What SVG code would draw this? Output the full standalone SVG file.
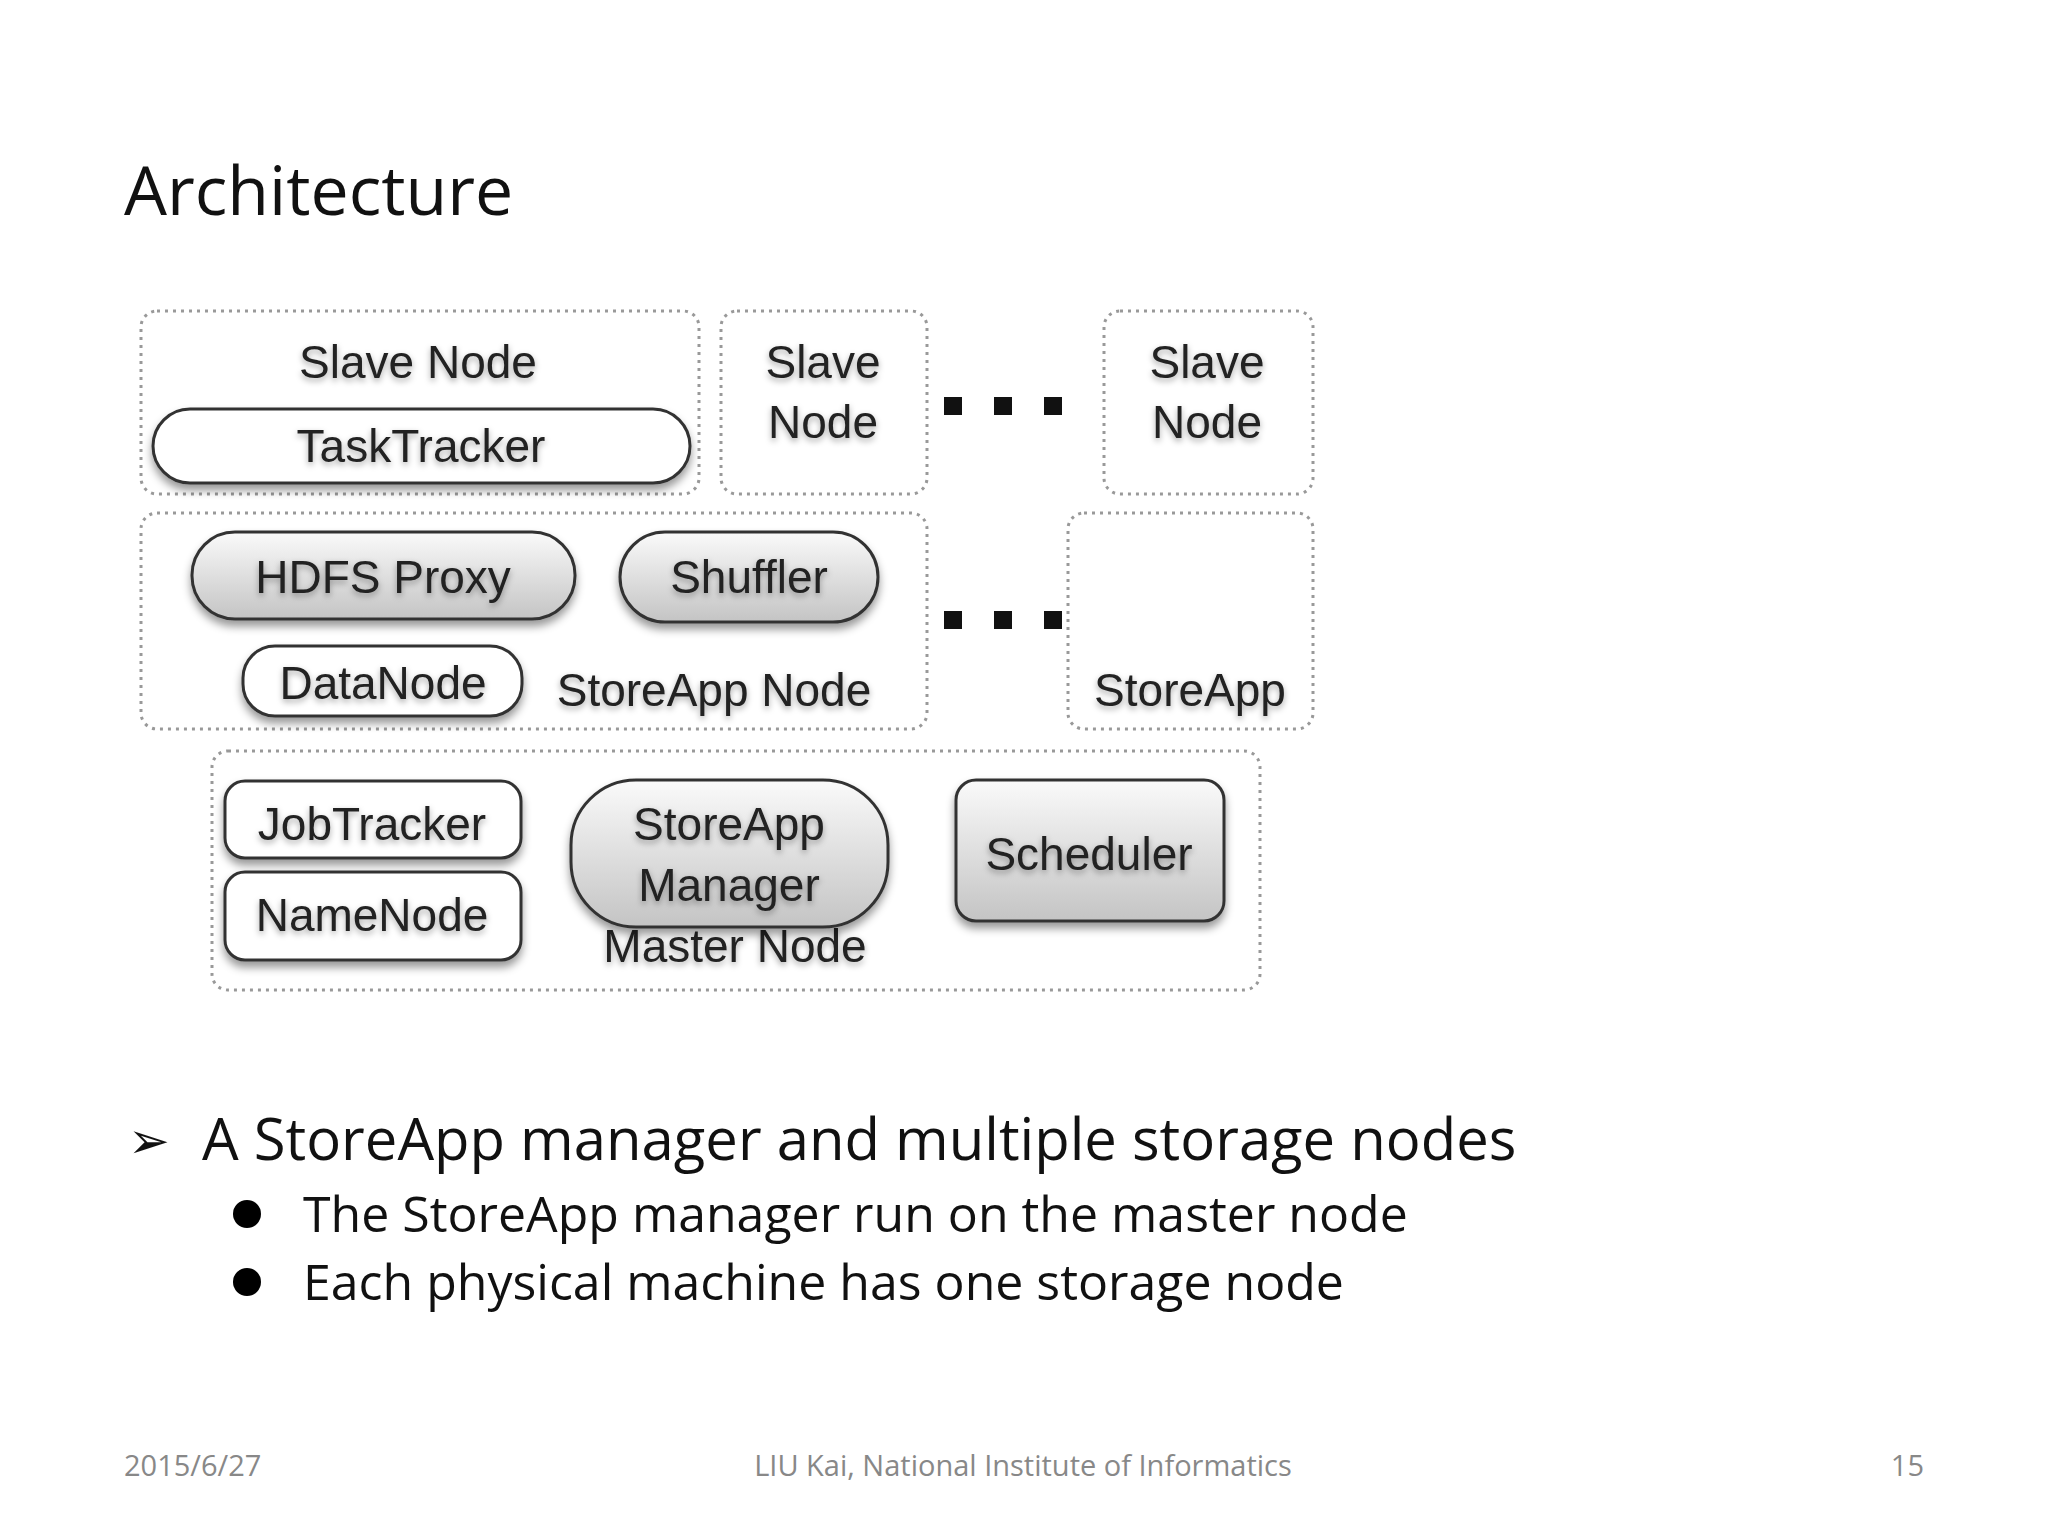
<svg xmlns="http://www.w3.org/2000/svg" width="2048" height="1536" viewBox="0 0 2048 1536">
<style>
.ttl{font-family:"Open Sans","Liberation Sans",sans-serif;fill:#111}
.d{font-family:"Liberation Sans",Arial,sans-serif;font-size:46px;fill:#222;text-anchor:middle;dominant-baseline:central;filter:url(#ts)}
.grp{fill:none;stroke:#999;stroke-width:3;stroke-dasharray:3 5}
.pw{fill:#fff;stroke:#333;stroke-width:3;filter:url(#sh)}
.pg{fill:url(#gg);stroke:#333;stroke-width:3;filter:url(#sh)}
.ft{font-family:"Open Sans","Liberation Sans",sans-serif;font-size:29px;fill:#888}
</style>
<defs>
<linearGradient id="gg" x1="0" y1="0" x2="0" y2="1"><stop offset="0" stop-color="#fafafa"/><stop offset="1" stop-color="#c4c4c4"/></linearGradient>
<filter id="sh" x="-10%" y="-20%" width="120%" height="150%"><feDropShadow dx="0" dy="6" stdDeviation="4" flood-color="#000" flood-opacity="0.4"/></filter>
<filter id="ts" x="-10%" y="-30%" width="120%" height="160%"><feDropShadow dx="0" dy="3" stdDeviation="3" flood-color="#000" flood-opacity="0.35"/></filter>
</defs>
<rect width="2048" height="1536" fill="#fff"/>
<text class="ttl" x="124" y="215" font-size="68">Architecture</text>

<g id="slave1"><rect class="grp" x="141" y="311" width="558" height="183" rx="16"/><text class="d" x="418" y="362">Slave Node</text></g>
<g id="tasktracker"><rect class="pw" x="153" y="409" width="537" height="74" rx="37"/><text class="d" x="421" y="446">TaskTracker</text></g>
<g id="slave2"><rect class="grp" x="721" y="311" width="206" height="183" rx="16"/><text class="d" x="823" y="362">Slave</text><text class="d" x="823" y="422">Node</text></g>
<g id="slave3"><rect class="grp" x="1104" y="311" width="209" height="183" rx="16"/><text class="d" x="1207" y="362">Slave</text><text class="d" x="1207" y="422">Node</text></g>
<g id="dots1" fill="#111"><rect x="944" y="397" width="18" height="18"/><rect x="994" y="397" width="18" height="18"/><rect x="1044" y="397" width="18" height="18"/></g>

<g id="storeappnode"><rect class="grp" x="141" y="513" width="786" height="216" rx="16"/><text class="d" x="714" y="690">StoreApp Node</text></g>
<g id="hdfsproxy"><rect class="pg" x="192" y="532" width="383" height="87" rx="43"/><text class="d" x="383" y="577">HDFS Proxy</text></g>
<g id="shuffler"><rect class="pg" x="620" y="532" width="258" height="90" rx="45"/><text class="d" x="749" y="577">Shuffler</text></g>
<g id="datanode"><rect class="pw" x="243" y="646" width="279" height="70" rx="32"/><text class="d" x="383" y="683">DataNode</text></g>
<g id="dots2" fill="#111"><rect x="944" y="611" width="18" height="18"/><rect x="994" y="611" width="18" height="18"/><rect x="1044" y="611" width="18" height="18"/></g>
<g id="storeapp"><rect class="grp" x="1068" y="513" width="245" height="216" rx="16"/><text class="d" x="1190" y="690">StoreApp</text></g>

<g id="master"><rect class="grp" x="212" y="751" width="1048" height="239" rx="16"/><text class="d" x="735" y="946">Master Node</text></g>
<g id="jobtracker"><rect class="pw" x="225" y="781" width="296" height="77" rx="20"/><text class="d" x="372" y="824">JobTracker</text></g>
<g id="namenode"><rect class="pw" x="225" y="872" width="296" height="88" rx="20"/><text class="d" x="372" y="915">NameNode</text></g>
<g id="storeappmanager"><rect class="pg" x="571" y="780" width="317" height="147" rx="65"/><text class="d" x="729" y="824">StoreApp</text><text class="d" x="729" y="885">Manager</text></g>
<g id="scheduler"><rect class="pg" x="956" y="780" width="268" height="141" rx="20"/><text class="d" x="1089" y="854">Scheduler</text></g>

<g id="connectors"/>

<text class="ttl" x="128" y="1158" font-size="50">➢</text>
<text class="ttl" x="202" y="1160" font-size="58">A StoreApp manager and multiple storage nodes</text>
<circle cx="247" cy="1214" r="14" fill="#000"/>
<text class="ttl" x="303" y="1232" font-size="50">The StoreApp manager run on the master node</text>
<circle cx="247" cy="1282" r="14" fill="#000"/>
<text class="ttl" x="303" y="1300" font-size="50">Each physical machine has one storage node</text>

<text class="ft" x="124" y="1476">2015/6/27</text>
<text class="ft" x="1023" y="1476" text-anchor="middle">LIU Kai, National Institute of Informatics</text>
<text class="ft" x="1924" y="1476" text-anchor="end">15</text>
</svg>
